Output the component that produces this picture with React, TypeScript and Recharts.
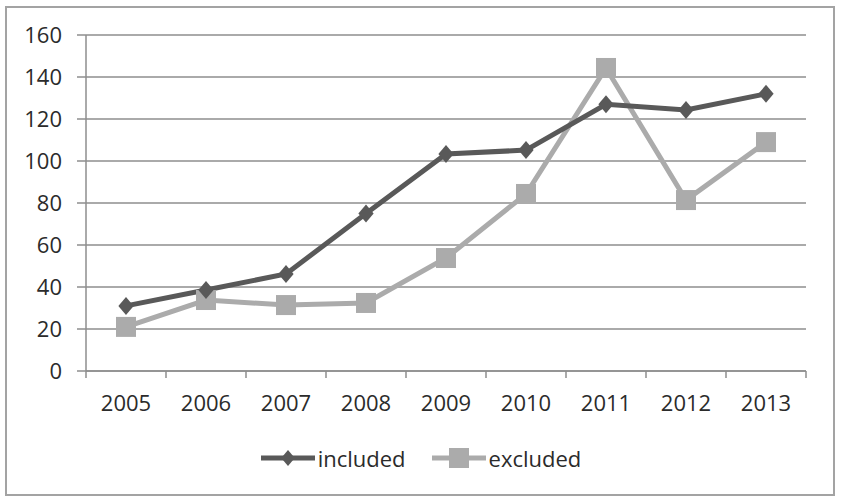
import { LineChart, Line, XAxis, YAxis, CartesianGrid, Legend } from "recharts";

const years = ["2005", "2006", "2007", "2008", "2009", "2010", "2011", "2012", "2013"];
const included = [31, 38.6, 46.2, 75, 103.3, 105.2, 127, 124.3, 132];
const excluded = [21, 33.8, 31.4, 32.4, 53.8, 84.3, 144.3, 81.4, 109];
const yTicks = [0, 20, 40, 60, 80, 100, 120, 140, 160];

const data = years.map((year, i) => ({ year, included: included[i], excluded: excluded[i] }));

const DARK = "#595959";
const LIGHT = "#ababab";
const GRID = "#8e8e8e";
const FONT = "'Open Sans', sans-serif";
const HALF_BAND = 40; // half the width of one year slot

function Diamond({ cx, cy, size = 9 }: { cx: number; cy: number; size?: number }) {
	return (
		<polygon
			points={`${cx},${cy - size} ${cx + size * 0.85},${cy} ${cx},${cy + size} ${cx - size * 0.85},${cy}`}
			fill={DARK}
		/>
	);
}

function Square({ cx, cy, size = 10 }: { cx: number; cy: number; size?: number }) {
	return <rect x={cx - size} y={cy - size} width={size * 2} height={size * 2} fill={LIGHT} />;
}

// year label plus the tick marks that sit on the slot boundaries
function YearTick(props: any) {
	const { x, y, payload, index, visibleTicksCount } = props;
	const axisY = y - 24;
	return (
		<g>
			<line x1={x - HALF_BAND} y1={axisY} x2={x - HALF_BAND} y2={axisY + 7} stroke={GRID} strokeWidth={1.5} />
			{index === visibleTicksCount - 1 && (
				<line x1={x + HALF_BAND} y1={axisY} x2={x + HALF_BAND} y2={axisY + 7} stroke={GRID} strokeWidth={1.5} />
			)}
			<text x={x} y={y} dy="0.71em" textAnchor="middle" fill="#2b2b2b" fontSize={22} fontFamily={FONT}>
				{payload.value}
			</text>
		</g>
	);
}

function LegendContent() {
	const item = (label: string, color: string, marker: "diamond" | "square") => (
		<div style={{ display: "flex", alignItems: "center", marginRight: label === "included" ? 26 : 0 }}>
			<svg width={54} height={22} style={{ marginRight: 3 }}>
				<line x1={0} y1={11} x2={54} y2={11} stroke={color} strokeWidth={5} />
				{marker === "diamond" ? <Diamond cx={27} cy={11} size={8} /> : <Square cx={27} cy={11} size={10} />}
			</svg>
			<span style={{ fontFamily: FONT, fontSize: 22, color: "#2b2b2b" }}>{label}</span>
		</div>
	);
	return (
		<div style={{ display: "flex", justifyContent: "center", alignItems: "center", height: 40 }}>
			{item("included", DARK, "diamond")}
			{item("excluded", LIGHT, "square")}
		</div>
	);
}

export default function App() {
	return (
		<div style={{ position: "absolute", left: 0, top: 0, width: 842, height: 498, background: "#fff" }}>
			<div
				style={{
					position: "absolute",
					left: 5,
					top: 6,
					width: 826,
					height: 486,
					border: "2px solid #a3a3a3",
				}}
			/>
			<LineChart width={842} height={498} data={data} margin={{ top: 35, right: 36, left: 0, bottom: 20 }}>
				<CartesianGrid vertical={false} stroke={GRID} strokeWidth={1.5} />
				<XAxis
					dataKey="year"
					height={67}
					padding={{ left: HALF_BAND, right: HALF_BAND }}
					axisLine={{ stroke: GRID, strokeWidth: 1.5 }}
					tickLine={false}
					tickSize={8}
					tickMargin={16}
					tick={<YearTick />}
					interval={0}
				/>
				<YAxis
					width={86}
					domain={[0, 160]}
					ticks={yTicks}
					axisLine={{ stroke: GRID, strokeWidth: 1.5 }}
					tickLine={{ stroke: GRID, strokeWidth: 1.5 }}
					tickSize={9}
					tickMargin={15}
					tick={{ fill: "#2b2b2b", fontSize: 22, fontFamily: FONT }}
				/>
				<Legend
					verticalAlign="bottom"
					height={40}
					wrapperStyle={{ left: 0, width: 842 }}
					content={() => <LegendContent />}
				/>
				<Line
					dataKey="excluded"
					stroke={LIGHT}
					strokeWidth={5}
					isAnimationActive={false}
					dot={(p: any) => <Square key={`ex-${p.index}`} cx={p.cx} cy={p.cy} />}
					activeDot={false}
				/>
				<Line
					dataKey="included"
					stroke={DARK}
					strokeWidth={5}
					isAnimationActive={false}
					dot={(p: any) => <Diamond key={`in-${p.index}`} cx={p.cx} cy={p.cy} />}
					activeDot={false}
				/>
			</LineChart>
		</div>
	);
}
